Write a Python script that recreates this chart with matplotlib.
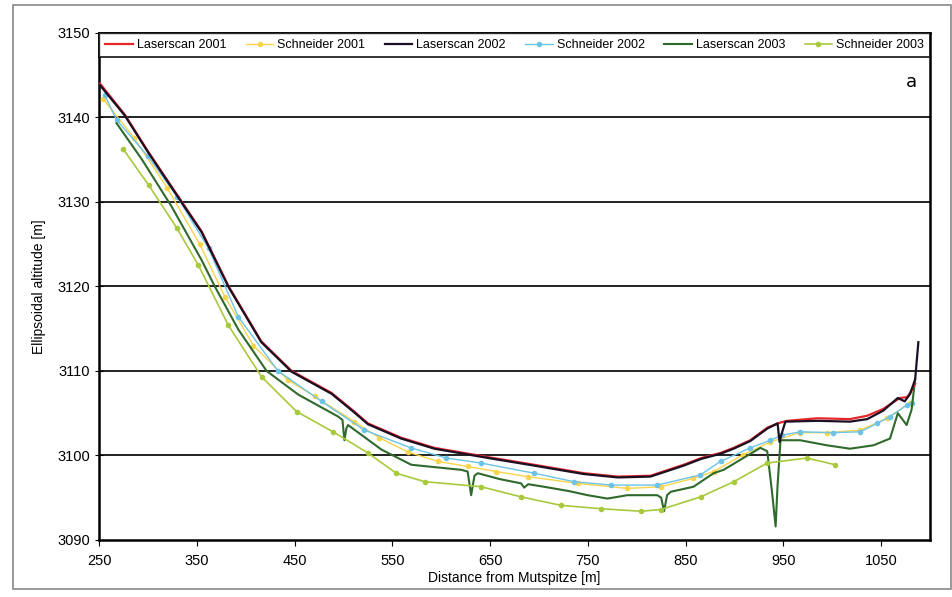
#longitudinal profiles
import numpy as np
import matplotlib.pyplot as plt
from matplotlib.patches import Rectangle

plt.rcParams['font.family'] = ['Liberation Sans', 'DejaVu Sans']

# Laserscan 2001
ls01_x = [251, 276.5, 300, 334.7, 355, 382.6, 416, 447, 487.8, 511, 525, 559, 593, 648, 695, 746, 780.6, 814, 848,
          866, 885.7, 899, 916, 933.7, 947, 954, 984.7, 1018, 1035.7, 1052, 1069, 1076.5, 1079.6, 1084.7]
ls01_y = [3144.0, 3140.3, 3136.0, 3130.0, 3126.5, 3120.0, 3113.5, 3110.0, 3107.4, 3105.2, 3103.8, 3102.1, 3100.9, 3099.8, 3098.9, 3097.9, 3097.5, 3097.6, 3098.9,
          3099.7, 3100.3, 3100.9, 3101.8, 3103.3, 3103.9, 3104.1, 3104.4, 3104.3, 3104.7, 3105.5, 3106.8, 3106.9, 3107.4, 3108.5]
# Laserscan 2002
ls02_x = [251, 276.5, 300, 334.7, 355, 382.6, 416, 447, 487.8, 511, 525, 559, 593, 648, 695, 746, 780.6, 814, 848,
          866, 885.7, 899, 916, 933.7, 944, 946, 948, 952, 984.7, 1018, 1035.7, 1052, 1067, 1074, 1079.6, 1084.7, 1088]
ls02_y = [3143.8, 3140.2, 3135.9, 3129.9, 3126.4, 3119.9, 3113.4, 3109.9, 3107.3, 3105.1, 3103.7, 3102.0, 3100.8, 3099.7, 3098.8, 3097.8, 3097.4, 3097.5, 3098.8,
          3099.6, 3100.2, 3100.8, 3101.7, 3103.2, 3103.8, 3101.6, 3102.5, 3104.0, 3104.1, 3104.0, 3104.3, 3105.3, 3106.8, 3106.4, 3107.3, 3109.0, 3113.4]
# Schneider 2001
sc01_x = [254, 285.7, 320, 353, 378.6, 407.9, 443.6, 470.6, 511, 536.7, 566, 596.6, 627, 656, 688.4, 739.5, 790.5, 824.5, 858,
          878.6, 909, 936.7, 967, 995, 1028.6, 1056, 1079.6]
sc01_y = [3142.2, 3137.6, 3131.6, 3125.0, 3118.8, 3113.0, 3108.9, 3107.0, 3104.0, 3102.1, 3100.4, 3099.3, 3098.7, 3098.1, 3097.5, 3096.7, 3096.1, 3096.3, 3097.3,
          3098.1, 3100.1, 3101.6, 3102.7, 3102.7, 3103.0, 3104.4, 3106.2]
# Schneider 2002
sc02_x = [256, 268, 300, 330, 362, 392.5, 433, 477.6, 521.4, 569, 605, 640.8, 695, 735.7, 773.5, 821, 865,
          885.7, 916, 936.7, 949, 967, 1001, 1028.6, 1046, 1059, 1076.5, 1081.6]
sc02_y = [3142.6, 3139.7, 3135.4, 3130.6, 3124.5, 3116.4, 3110.0, 3106.4, 3103.0, 3100.9, 3099.7, 3099.1, 3097.9, 3096.9, 3096.5, 3096.5, 3097.7,
          3099.3, 3100.9, 3101.8, 3102.4, 3102.8, 3102.7, 3102.8, 3103.8, 3104.6, 3106.0, 3106.2]
# Laserscan 2003
ls03_x = [268, 294, 324.5, 355, 368.4, 392.5, 421.4, 453.8, 494.6, 499, 501, 503, 504.7, 538.8, 549, 569.4, 620.4, 627, 630.6, 634, 637.4,
          660, 681.6, 684.8, 689, 705, 730, 749.7, 770, 790.5, 821, 825, 827.9, 831, 834.7, 858, 878.6,
          888.8, 909, 926.5, 933.4, 938, 942, 944, 947, 953.7, 967, 994.6, 1018, 1042, 1059, 1067, 1076, 1081, 1084.7]
ls03_y = [3139.3, 3135.0, 3129.4, 3123.1, 3120.0, 3114.9, 3110.0, 3107.2, 3104.6, 3104.2, 3101.8, 3103.2, 3103.6, 3100.7, 3100.1, 3098.9, 3098.3, 3098.1, 3095.3, 3097.6, 3097.9,
          3097.2, 3096.7, 3096.2, 3096.6, 3096.3, 3095.8, 3095.3, 3094.9, 3095.3, 3095.3, 3095.0, 3093.4, 3095.3, 3095.7, 3096.3, 3097.9,
          3098.3, 3099.7, 3100.9, 3100.5, 3096.0, 3091.6, 3096.5, 3101.8, 3101.8, 3101.8, 3101.2, 3100.8, 3101.2, 3102.0, 3105.0, 3103.6, 3105.4, 3109.0]
# Schneider 2003
sc03_x = [275, 300.7, 329.6, 351.7, 382.3, 416.3, 452, 489.4, 525, 554, 583, 640.8, 681.6, 722.4, 763.3, 804, 824.5, 865.3,
          899.3, 933.3, 974, 1003]
sc03_y = [3136.2, 3132.0, 3126.9, 3122.5, 3115.4, 3109.3, 3105.2, 3102.8, 3100.3, 3097.9, 3096.9, 3096.3, 3095.1, 3094.1, 3093.7, 3093.4, 3093.6, 3095.1,
          3096.9, 3099.1, 3099.7, 3098.9]

fig = plt.figure(figsize=(9.52, 5.97), dpi=100)
ax = fig.add_axes([0.104, 0.0955, 0.873, 0.8495])

ax.plot(ls01_x, ls01_y, color='#e8262a', lw=1.6, label='Laserscan 2001', zorder=4)
ax.plot(sc01_x, sc01_y, color='#f7d44a', lw=1.0, marker='o', ms=3, label='Schneider 2001', zorder=3)
ax.plot(ls02_x, ls02_y, color='#1c1024', lw=1.6, label='Laserscan 2002', zorder=5)
ax.plot(sc02_x, sc02_y, color='#6cc3e8', lw=1.0, marker='o', ms=3, label='Schneider 2002', zorder=3)
ax.plot(ls03_x, ls03_y, color='#2f6a2c', lw=1.5, label='Laserscan 2003', zorder=3)
ax.plot(sc03_x, sc03_y, color='#a9c93c', lw=1.2, marker='o', ms=3, label='Schneider 2003', zorder=3)

ax.set_xlim(250, 1100)
ax.set_ylim(3090, 3150)
ax.set_xticks(np.arange(250, 1051, 100))
ax.set_yticks(np.arange(3090, 3151, 10))
for yv in range(3100, 3150, 10):
    ax.axhline(yv, color='#222222', lw=1.4, zorder=1)
for s in ax.spines.values():
    s.set_linewidth(1.8)
ax.tick_params(axis='y', direction='inout', length=6, labelsize=10.5)
ax.tick_params(axis='x', direction='out', length=4, labelsize=10.5, pad=6)

ax.set_xlabel('Distance from Mutspitze [m]', fontsize=10, labelpad=2)
ax.set_ylabel('Ellipsoidal altitude [m]', fontsize=10, labelpad=8)

leg = ax.legend(loc='upper left', bbox_to_anchor=(0, 1, 1, 0), mode='expand', ncol=6,
                fontsize=9, frameon=True, fancybox=False, edgecolor='black',
                borderaxespad=0, handlelength=2.2, handletextpad=0.3, columnspacing=0.8,
                borderpad=0.5)
leg.get_frame().set_linewidth(1.4)

ax.text(1081, 3144.2, 'a', fontsize=13, fontfamily='DejaVu Sans', ha='center', va='center')

fig.patches.append(Rectangle((13 / 952, 8 / 597), 938 / 952, 584 / 597, transform=fig.transFigure,
                             fill=False, edgecolor='#888888', lw=1.2))

fig.savefig('out.png', dpi=100)
